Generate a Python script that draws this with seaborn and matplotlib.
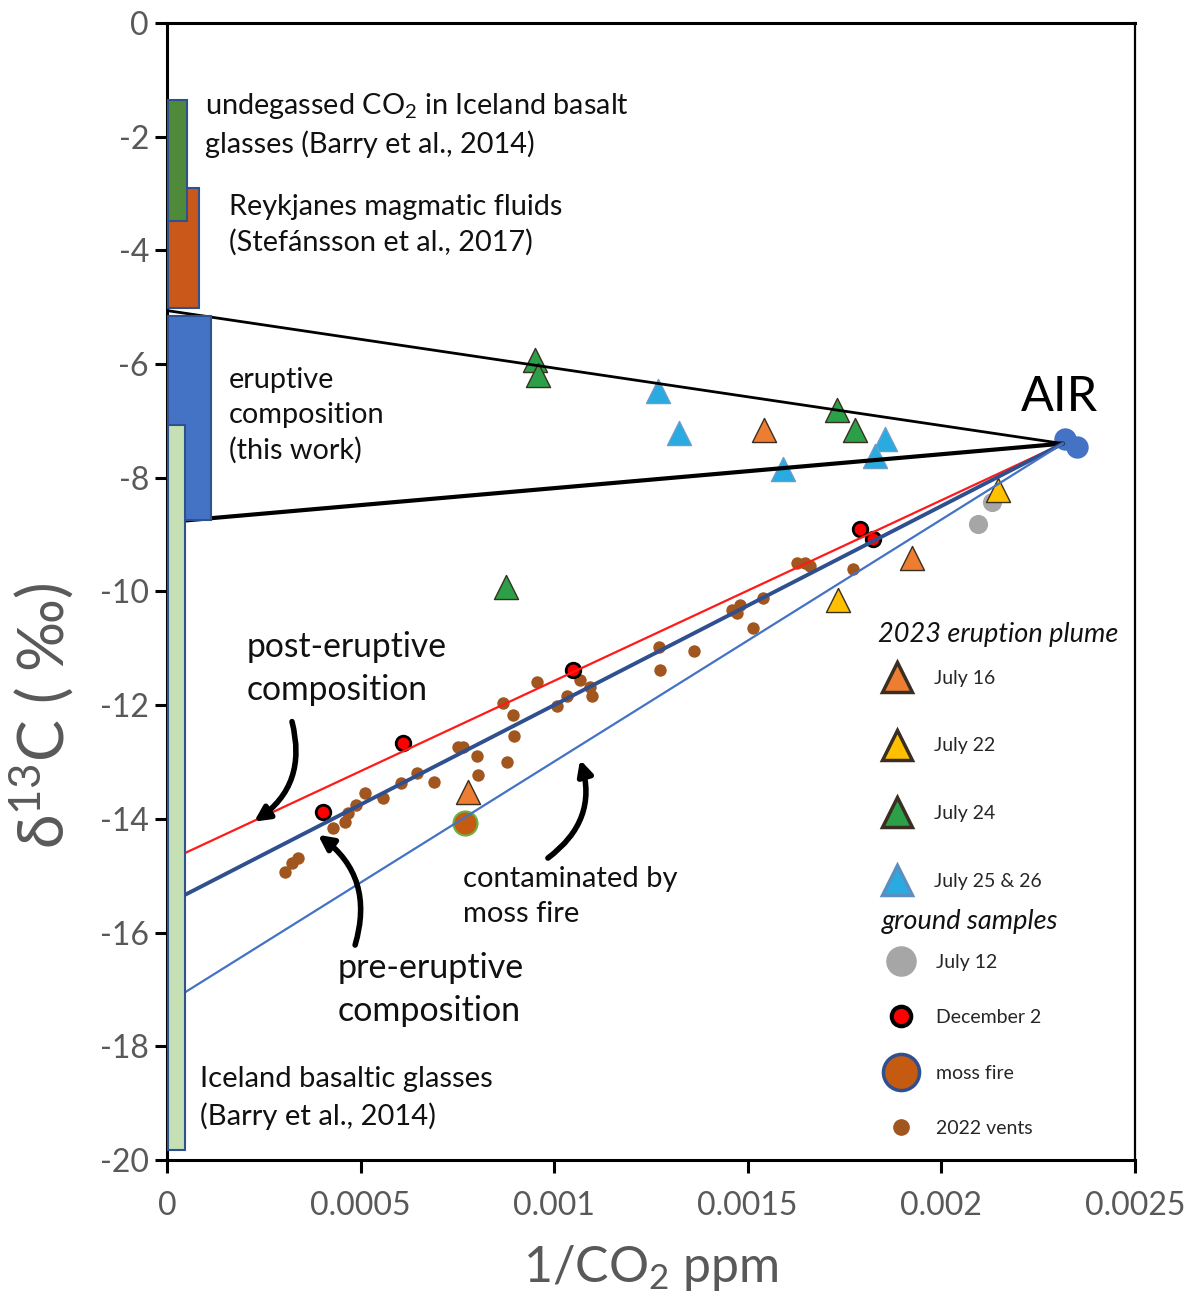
import numpy as np
import pandas as pd
import matplotlib.pyplot as plt
import seaborn as sns
from matplotlib.lines import Line2D

sns.set_style('ticks')
plt.rcParams['font.family'] = ['Lato', 'DejaVu Sans']
plt.rcParams['mathtext.fontset'] = 'custom'
plt.rcParams['mathtext.rm'] = 'Lato'
plt.rcParams['mathtext.it'] = 'Lato:italic'
plt.rcParams['axes.unicode_minus'] = False

# --- end-member ranges drawn as bars on the y axis ---
bar_labels = ['Reykjanes', 'undegassed', 'eruptive', 'Iceland glasses']
bar_right = [0.0000826, 0.0000517, 0.0001136, 0.0000465]
bar_top = [-2.9, -1.35, -5.15, -7.07]
bar_bottom = [-5.02, -3.48, -8.75, -19.82]
bar_colors = ['#C9581A', '#4E8A3A', '#4472C4', '#C5E0B4']

# --- mixing lines: intercept at 1/CO2 = 0, all end at air ---
air_end = (0.002314, -7.40)
mix_names = ['upper', 'lower', 'post', 'pre', 'moss']
mix_intercepts = [-5.06, -8.78, -14.75, -15.50, -17.25]

# --- 2023 eruption plume (triangles) ---
jul16_x = [0.001542, 0.001924, 0.000777]
jul16_y = [-7.16, -9.41, -13.53]
jul22_x = [0.002146, 0.001733]
jul22_y = [-8.21, -10.15]
jul24_x = [0.000950, 0.000958, 0.001730, 0.001777, 0.000875]
jul24_y = [-5.93, -6.19, -6.81, -7.16, -9.92]
jul25_x = [0.001268, 0.001322, 0.001591, 0.001854, 0.001828]
jul25_y = [-6.47, -7.21, -7.85, -7.32, -7.62]

# --- ground samples ---
jul12_x = [0.002094, 0.002130]
jul12_y = [-8.81, -8.43]
dec2_x = [0.001790, 0.001823, 0.001049, 0.000610, 0.000403]
dec2_y = [-8.90, -9.08, -11.38, -12.66, -13.88]
moss_x = [0.000770]
moss_y = [-14.07]
air_x = [0.002320, 0.002350]
air_y = [-7.32, -7.46]
vents_x = [0.000305, 0.000323, 0.000338, 0.000429, 0.000460, 0.000467, 0.000488,
           0.000511, 0.000558, 0.000604, 0.000646, 0.000690, 0.000752, 0.000764,
           0.000800, 0.000803, 0.000868, 0.000878, 0.000894, 0.000896, 0.000956,
           0.001007, 0.001033, 0.001067, 0.001092, 0.001098, 0.001271, 0.001273,
           0.001361, 0.001459, 0.001472, 0.001480, 0.001513, 0.001539, 0.001627,
           0.001648, 0.001661, 0.001772]
vents_y = [-14.93, -14.78, -14.69, -14.16, -14.05, -13.90, -13.76,
           -13.54, -13.63, -13.37, -13.19, -13.35, -12.74, -12.74,
           -12.89, -13.23, -11.96, -13.00, -12.17, -12.54, -11.59,
           -12.01, -11.84, -11.56, -11.68, -11.84, -10.98, -11.38,
           -11.05, -10.33, -10.38, -10.24, -10.64, -10.11, -9.50,
           -9.50, -9.55, -9.60]

xticks = [0, 0.0005, 0.001, 0.0015, 0.002, 0.0025]
xtick_labels = ['0', '0.0005', '0.001', '0.0015', '0.002', '0.0025']
yticks = list(range(0, -21, -2))

fig = plt.figure(figsize=(11.95, 13.07), dpi=100)
ax = fig.add_axes([0.1397, 0.1125, 0.8100, 0.8700])

# bars (on top of the mixing lines)
left = 0.000003
ax.bar([left] * 4, np.array(bar_top) - np.array(bar_bottom), width=np.array(bar_right) - left,
       bottom=bar_bottom, align='edge', color=bar_colors, edgecolor='#2F528F', linewidth=1.5, zorder=4)

# mixing lines
line_styles = {'upper': ('black', 2.0), 'lower': ('black', 3.0), 'post': ('#FF1A1A', 1.6),
               'pre': ('#2F4F8F', 2.8), 'moss': ('#4472C4', 1.6)}
for name, b in zip(mix_names, mix_intercepts):
    col, lw = line_styles[name]
    ax.plot([0, air_end[0]], [b, air_end[1]], color=col, lw=lw, zorder=3)

# points
def pts(x, y, **kw):
    sns.scatterplot(x=x, y=y, ax=ax, legend=False, zorder=2, **kw)

pts(vents_x, vents_y, color='#A0561E', s=80, linewidth=0)
pts(jul12_x, jul12_y, color='#A6A6A6', s=190, linewidth=0)
pts(dec2_x, dec2_y, color='#FF0000', s=110, edgecolor='black', linewidth=2)
pts(moss_x, moss_y, color='#C55A11', s=300, edgecolor='#70AD47', linewidth=1.5)
tri_edge = '#3A2E22'
pts(jul16_x, jul16_y, color='#ED7D31', marker='^', s=300, edgecolor=tri_edge, linewidth=1)
pts(jul22_x, jul22_y, color='#FFC000', marker='^', s=300, edgecolor=tri_edge, linewidth=1)
pts(jul24_x, jul24_y, color='#2CA048', marker='^', s=300, edgecolor=tri_edge, linewidth=1)
pts(jul25_x, jul25_y, color='#29ABE2', marker='^', s=300, edgecolor='#6A9EC8', linewidth=1)
pts(air_x, air_y, color='#4472C4', s=260, linewidth=0)

ax.set_xlim(0, 0.0025)
ax.set_ylim(-20, 0)
ax.set_xticks(xticks)
ax.set_xticklabels(xtick_labels)
ax.set_yticks(yticks)
ax.set_yticklabels([str(t) for t in yticks])
ax.tick_params(axis='both', direction='out', length=9, width=2.2, colors='black',
               labelcolor='#595959', labelsize=23)
ax.tick_params(axis='x', pad=13)
ax.tick_params(axis='y', pad=4)
for side in ['left', 'bottom', 'top']:
    ax.spines[side].set_linewidth(2.2)
    ax.spines[side].set_color('black')
ax.spines['right'].set_linewidth(1.6)
ax.spines['right'].set_color('black')

ax.set_xlabel('1/CO$_2$ ppm', fontsize=36, color='#595959', labelpad=16)
ax.set_ylabel('δ$^{13}$C ( ‰)', fontsize=45, color='#595959')
ax.yaxis.set_label_coords(-0.094, 0.391)

# text labels
txt = dict(fontsize=20.8, color='#111111', va='center', ha='left', linespacing=1.42)
ax.text(0.0000981, -1.78, 'undegassed CO$_2$ in Iceland basalt\nglasses (Barry et al., 2014)', **txt)
ax.text(0.000160, -3.55, 'Reykjanes magmatic fluids\n(Stefánsson et al., 2017)', **txt)
ax.text(0.000160, -6.90, 'eruptive\ncomposition\n(this work)', **txt)
ax.text(0.0000852, -18.91, 'Iceland basaltic glasses\n(Barry et al., 2014)', **{**txt, 'fontsize': 21})
ax.text(0.000207, -11.36, 'post-eruptive\ncomposition', **{**txt, 'fontsize': 24.2})
ax.text(0.000442, -17.00, 'pre-eruptive\ncomposition', **{**txt, 'fontsize': 24.5})
ax.text(0.000764, -15.37, 'contaminated by\nmoss fire', **{**txt, 'fontsize': 21})
ax.text(0.002306, -6.58, 'AIR', fontsize=35, ha='center', va='center', color='black')

arrow = dict(arrowstyle='-|>', color='black', lw=4, mutation_scale=22, shrinkA=0, shrinkB=0)
ax.annotate('', xy=(0.000225, -14.05), xytext=(0.000323, -12.29),
            arrowprops={**arrow, 'connectionstyle': 'arc3,rad=-0.35'}, zorder=5)
ax.annotate('', xy=(0.000390, -14.28), xytext=(0.000486, -16.22),
            arrowprops={**arrow, 'connectionstyle': 'arc3,rad=0.35'}, zorder=5)
ax.annotate('', xy=(0.001067, -12.96), xytext=(0.000984, -14.69),
            arrowprops={**arrow, 'connectionstyle': 'arc3,rad=0.35'}, zorder=5)

# legends (titles as separate italic text)
def tri(c, e=tri_edge):
    return Line2D([], [], ls='none', marker='^', ms=22, mfc=c, mec=e, mew=2.5)

ax.text(0.7345, 0.4617, '2023 eruption plume', transform=ax.transAxes, fontsize=19.5,
        style='italic', va='center', ha='left', color='#111111')
h1 = [tri('#ED7D31'), tri('#FFC000'), tri('#2CA048'), tri('#29ABE2', '#5A8FC0')]
leg1 = ax.legend(h1, ['July 16', 'July 22', 'July 24', 'July 25 & 26'],
                 loc='upper left', bbox_to_anchor=(0.7345, 0.431), frameon=False, fontsize=14,
                 labelspacing=2.6, handlelength=2.0, handletextpad=0.9, borderpad=0, borderaxespad=0)
ax.add_artist(leg1)

ax.text(0.7386, 0.2093, 'ground samples', transform=ax.transAxes, fontsize=19.5,
        style='italic', va='center', ha='left', color='#111111')
h2 = [Line2D([], [], ls='none', marker='o', ms=21, mfc='#A6A6A6', mec='#A6A6A6'),
      Line2D([], [], ls='none', marker='o', ms=14, mfc='#FF0000', mec='black', mew=3),
      Line2D([], [], ls='none', marker='o', ms=26, mfc='#C55A11', mec='#2F4F8F', mew=2.5),
      Line2D([], [], ls='none', marker='o', ms=11, mfc='#A0561E', mec='#A0561E')]
leg2 = ax.legend(h2, ['July 12', 'December 2', 'moss fire', '2022 vents'],
                 loc='upper left', bbox_to_anchor=(0.7386, 0.1812), frameon=False, fontsize=14,
                 labelspacing=1.97, handlelength=2.0, handletextpad=0.8, borderpad=0, borderaxespad=0)

fig.savefig('out.png', dpi=100)
